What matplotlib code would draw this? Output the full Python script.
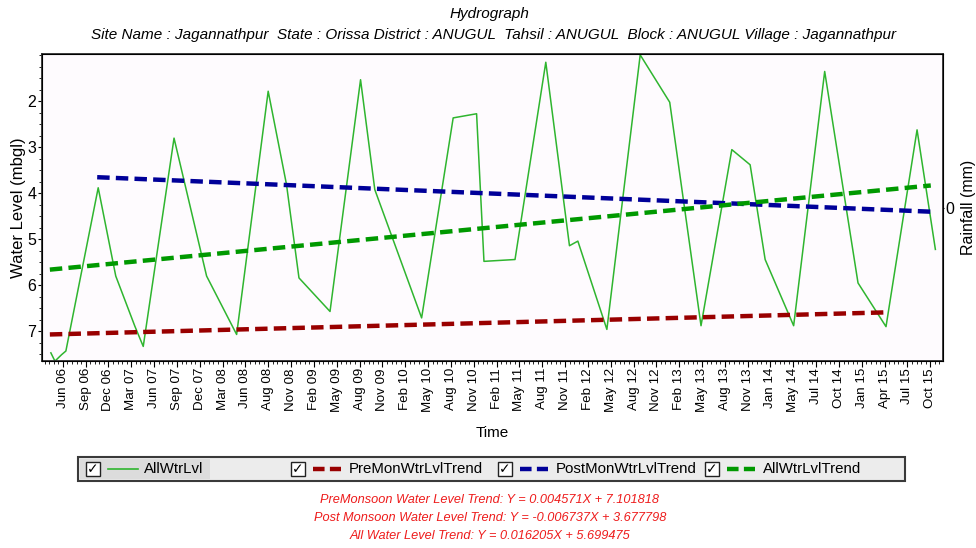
import matplotlib.pyplot as plt
import matplotlib.dates as mdates
from matplotlib.patches import Rectangle
from matplotlib.lines import Line2D
from matplotlib.ticker import MultipleLocator
import numpy as np
import pandas as pd

plt.rcParams['font.family'] = ['Liberation Sans', 'DejaVu Sans']

# Water level readings (mbgl)
level_dates = ['2006-04-29', '2006-05-15', '2006-06-10', '2006-06-27', '2006-11-01',
               '2007-01-09', '2007-03-25', '2007-04-27', '2007-08-26', '2008-01-01',
               '2008-04-28', '2008-08-30', '2008-11-10', '2008-12-29', '2009-04-30',
               '2009-08-28', '2009-10-23', '2010-04-25', '2010-08-27', '2010-11-27',
               '2010-12-26', '2011-04-27', '2011-08-26', '2011-11-27', '2011-12-30',
               '2012-04-22', '2012-08-31', '2012-12-25', '2013-04-27', '2013-08-26',
               '2013-11-06', '2014-01-04', '2014-04-26', '2014-08-26', '2015-01-04',
               '2015-04-24', '2015-08-24', '2015-11-04']
level_values = [7.47, 7.65, 7.51, 7.43, 3.88,
                5.80, 6.89, 7.33, 2.80, 5.80,
                7.07, 1.78, 3.81, 5.84, 6.57,
                1.53, 3.92, 6.71, 2.36, 2.27,
                5.48, 5.44, 1.15, 5.14, 5.04,
                6.96, 0.99, 2.02, 6.88, 3.05,
                3.38, 5.44, 6.88, 1.35, 5.95,
                6.90, 2.62, 5.22]

# trend lines (start, end)
pre_dates = ['2006-04-25', '2015-04-21']
pre_values = [7.07, 6.59]
post_dates = ['2006-10-28', '2015-10-17']
post_values = [3.65, 4.40]
all_dates = ['2006-04-25', '2015-10-17']
all_values = [5.66, 3.83]

tick_labels = ['Jun 06', 'Sep 06', 'Dec 06', 'Mar 07', 'Jun 07', 'Sep 07', 'Dec 07',
               'Mar 08', 'Jun 08', 'Aug 08', 'Nov 08', 'Feb 09', 'May 09', 'Aug 09',
               'Nov 09', 'Feb 10', 'May 10', 'Aug 10', 'Nov 10', 'Feb 11', 'May 11',
               'Aug 11', 'Nov 11', 'Feb 12', 'May 12', 'Aug 12', 'Nov 12', 'Feb 13',
               'May 13', 'Aug 13', 'Nov 13', 'Jan 14', 'May 14', 'Jul 14', 'Oct 14',
               'Jan 15', 'Apr 15', 'Jul 15', 'Oct 15']
tick_first = '2006-06-15'
tick_last = '2015-10-15'
x_start, x_end = '2006-03-25', '2015-12-04'

equations = ['PreMonsoon Water Level Trend: Y = 0.004571X + 7.101818',
             'Post Monsoon Water Level Trend: Y = -0.006737X + 3.677798',
             'All Water Level Trend: Y = 0.016205X + 5.699475']

c_lvl = '#2fb52f'
c_pre = '#990000'
c_post = '#000099'
c_all = '#009900'
dash = (0, (2.8, 1.4))

fig = plt.figure(figsize=(9.76, 5.48), dpi=100)
fig.patch.set_facecolor('white')
ax = fig.add_axes([0.043, 0.341, 0.9232, 0.5605])
ax.set_facecolor('#fefbfe')

ax.plot(pd.to_datetime(level_dates), level_values, color=c_lvl, lw=1.1)
ax.plot(pd.to_datetime(pre_dates), pre_values, color=c_pre, lw=3.2, ls=dash)
ax.plot(pd.to_datetime(post_dates), post_values, color=c_post, lw=3.2, ls=dash)
ax.plot(pd.to_datetime(all_dates), all_values, color=c_all, lw=3.2, ls=dash)

x0 = mdates.date2num(pd.Timestamp(x_start))
x1 = mdates.date2num(pd.Timestamp(x_end))
ax.set_xlim(x0, x1)
ax.set_ylim(7.65, 0.97)

t0 = mdates.date2num(pd.Timestamp(tick_first))
t1 = mdates.date2num(pd.Timestamp(tick_last))
major = np.linspace(t0, t1, len(tick_labels))
step = (major[1] - major[0]) / 5
minor = np.arange(t0 - step * int((t0 - x0) / step), x1, step)
ax.set_xticks(major, tick_labels, rotation=90, fontsize=9.6)
ax.set_xticks(minor, minor=True)
ax.set_yticks([2, 3, 4, 5, 6, 7])
ax.yaxis.set_minor_locator(MultipleLocator(0.25))
ax.tick_params(axis='y', labelsize=11.5, length=3, width=0.8, pad=1)
ax.tick_params(axis='x', length=4, width=0.8, pad=1)
ax.tick_params(which='minor', length=2, width=0.6)
for s in ax.spines.values():
    s.set_linewidth(1.3)
    s.set_color('#303030')

ax.set_xlabel('Time', fontsize=11, labelpad=10)
ax.set_ylabel('Water Level (mbgl)', fontsize=12)
ax.yaxis.set_label_coords(-0.018, 0.5)

ax2 = ax.twinx()
ax2.set_ylim(-1, 1)
ax2.set_yticks([0])
ax2.tick_params(labelsize=11.5, length=1, pad=1)
ax2.set_ylabel('Rainfall (mm)', fontsize=11.5, labelpad=4.5)

fig.text(0.502, 0.974, 'Hydrograph', ha='center', va='center', fontsize=11, style='italic')
fig.text(0.506, 0.937, 'Site Name : Jagannathpur  State : Orissa District : ANUGUL  '
         'Tahsil : ANUGUL  Block : ANUGUL Village : Jagannathpur',
         ha='center', va='center', fontsize=11, style='italic')

# legend strip
W, H = 976.0, 548.0
fig.patches.append(Rectangle((78 / W, 1 - 481 / H), 827 / W, 24 / H, transform=fig.transFigure,
                             facecolor='#ececec', edgecolor='#3a3a3a', lw=1.5))
fig.patches.append(Rectangle((80 / W, 1 - 479 / H), 130 / W, 20 / H, transform=fig.transFigure,
                             facecolor='#dcdcdc', edgecolor='none'))
leg_names = ['AllWtrLvl', 'PreMonWtrLvlTrend', 'PostMonWtrLvlTrend', 'AllWtrLvlTrend']
leg_colors = [c_lvl, c_pre, c_post, c_all]
leg_box_x = [86, 291, 498, 705]
ly = 1 - 469 / H
for name, col, bx in zip(leg_names, leg_colors, leg_box_x):
    fig.patches.append(Rectangle((bx / W, 1 - 476 / H), 14 / W, 14 / H, transform=fig.transFigure,
                                 facecolor='white', edgecolor='#222222', lw=1))
    fig.text((bx + 7) / W, ly, '\u2713', ha='center', va='center', fontsize=10,
             fontweight='bold', family='DejaVu Sans')
    if name == 'AllWtrLvl':
        fig.lines.append(Line2D([(bx + 22) / W, (bx + 52) / W], [ly, ly], transform=fig.transFigure,
                                color=col, lw=1.2))
    else:
        fig.lines.append(Line2D([(bx + 22) / W, (bx + 50) / W], [ly, ly], transform=fig.transFigure,
                                color=col, lw=3.2, ls=(0, (2.6, 1.2))))
    fig.text((bx + 58) / W, ly, name, ha='left', va='center', fontsize=10.8)

for i, eq in enumerate(equations):
    fig.text(490 / W, 1 - (500 + 18 * i) / H, eq, ha='center', va='center',
             fontsize=9.2, style='italic', color='#ee1c1c')

fig.savefig('out.png', dpi=100)
